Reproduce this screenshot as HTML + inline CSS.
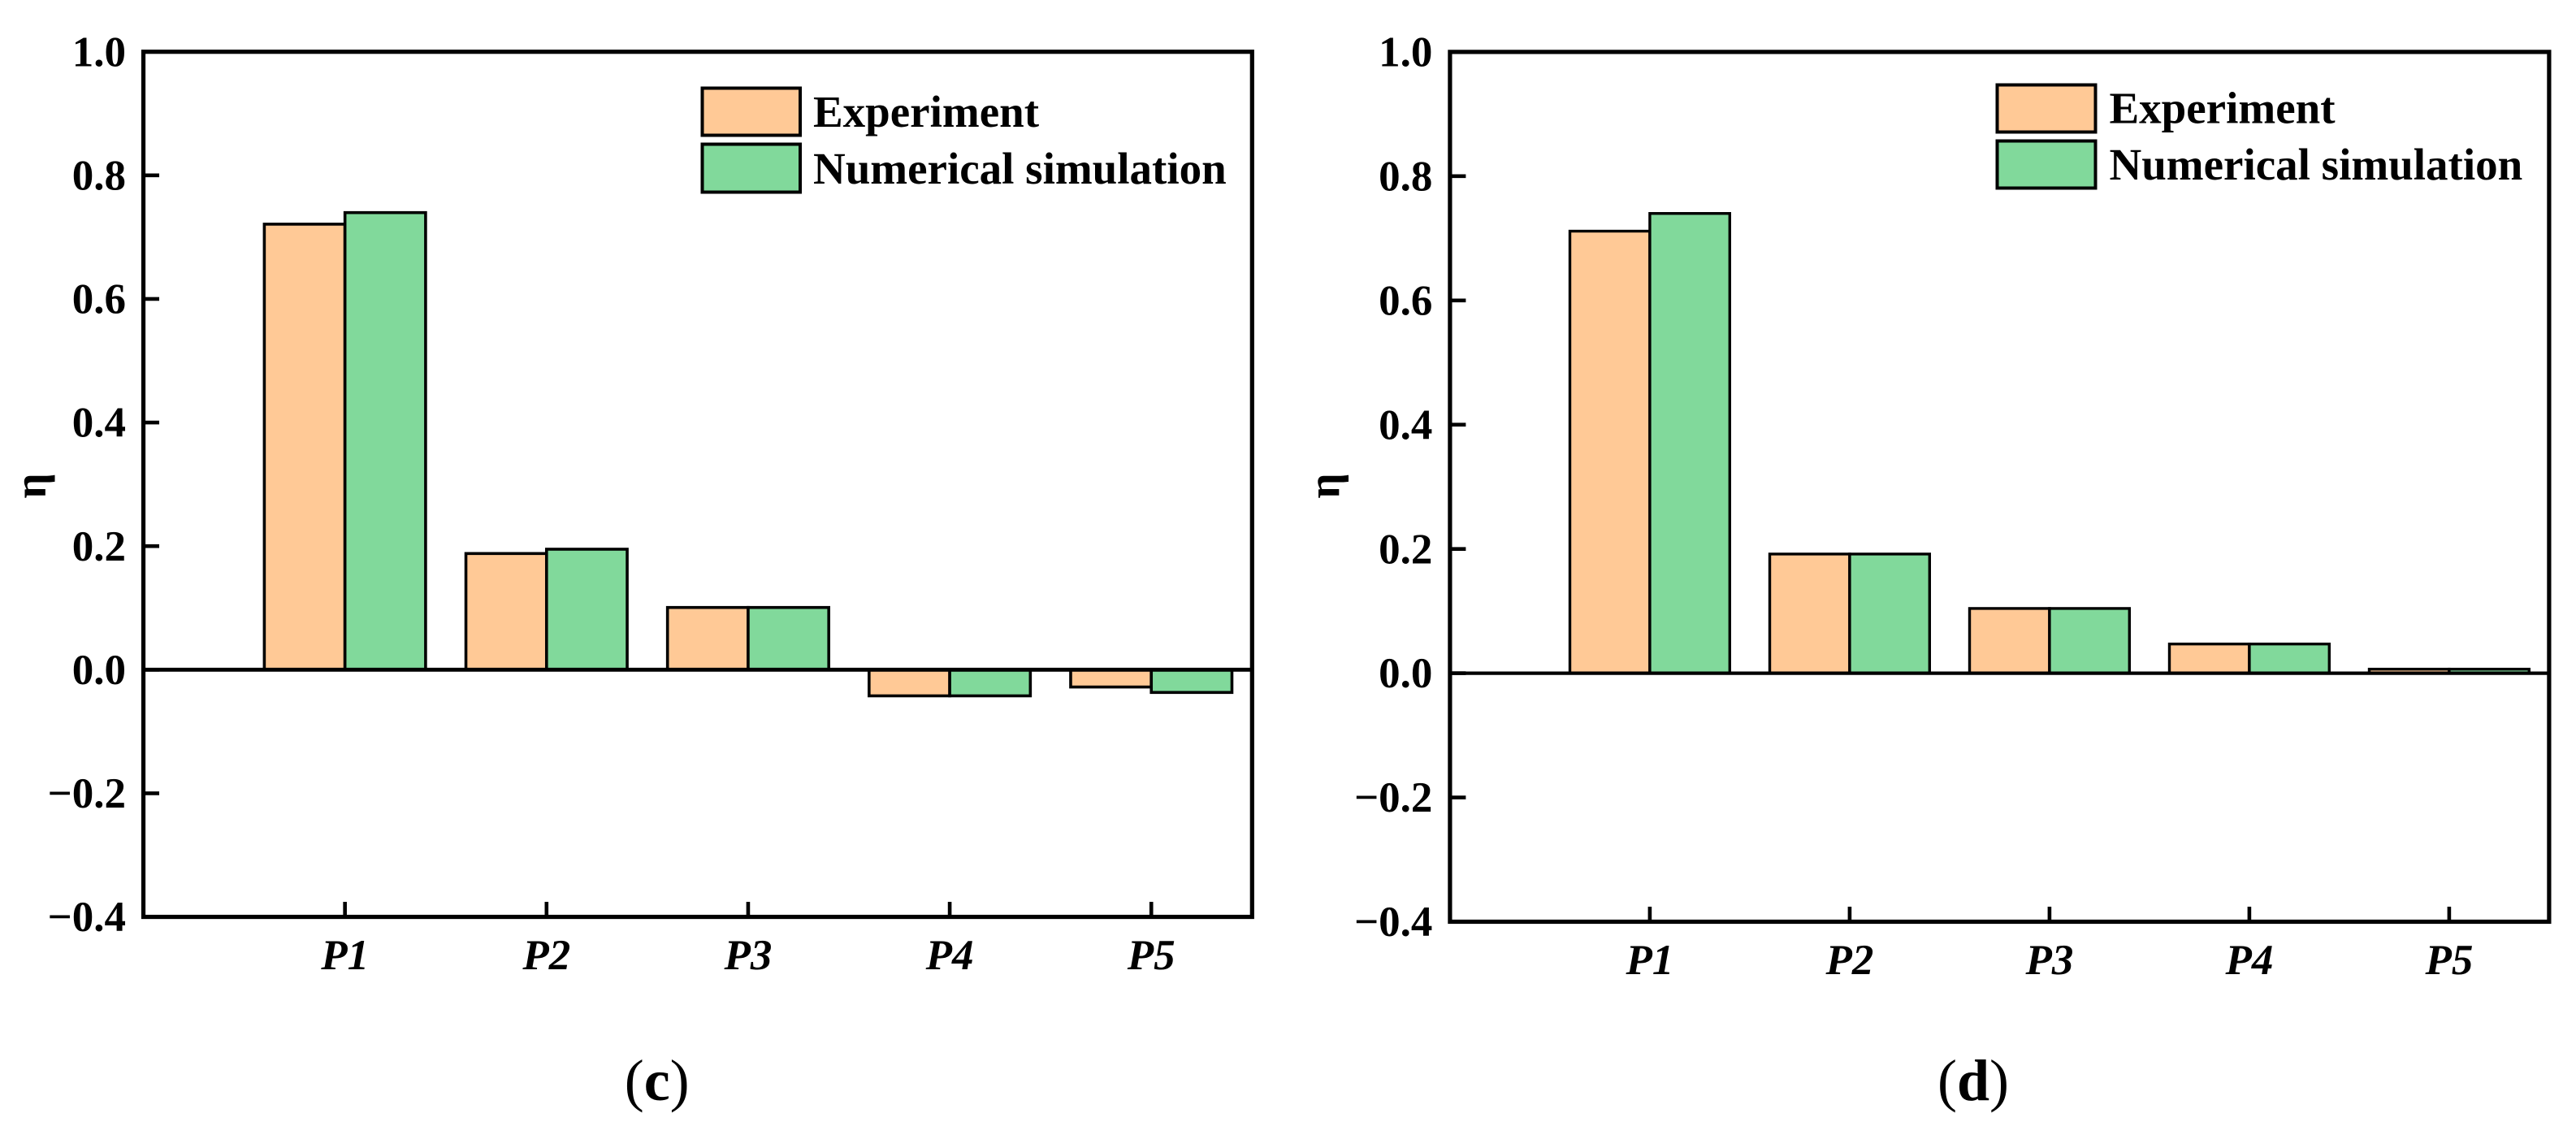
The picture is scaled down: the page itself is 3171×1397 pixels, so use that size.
<!DOCTYPE html>
<html lang="en">
<head>
<meta charset="utf-8">
<title>Experiment vs numerical simulation</title>
<style>
html,body{margin:0;padding:0;background:#fff;}
svg{display:block;}
text{font-family:"Liberation Serif",serif;fill:#000;}
</style>
</head>
<body>
<svg id="figure" xmlns="http://www.w3.org/2000/svg" width="3171" height="1397" viewBox="0 0 3171 1397">
  <rect x="0" y="0" width="3171" height="1397" fill="#ffffff"/>
  <g id="panel-c"></g>
  <g id="panel-d"></g>

  <g>
    <rect x="864.5" y="108.5" width="120.5" height="58" fill="#FFC996" stroke="#000" stroke-width="4"/>
    <text x="1001" y="156" font-size="55" font-weight="700">Experiment</text>
    <rect x="864.5" y="177.5" width="120.5" height="59" fill="#81D99B" stroke="#000" stroke-width="4"/>
    <text x="1001" y="226" font-size="55" font-weight="700">Numerical simulation</text>
  </g>
  <g>
    <rect x="2458.5" y="104.5" width="121" height="58" fill="#FFC996" stroke="#000" stroke-width="4"/>
    <text x="2596.5" y="151.7" font-size="55" font-weight="700">Experiment</text>
    <rect x="2458.5" y="173.5" width="121" height="58" fill="#81D99B" stroke="#000" stroke-width="4"/>
    <text x="2596.5" y="221" font-size="55" font-weight="700">Numerical simulation</text>
  </g>

  <text transform="translate(56 598) rotate(-90)" text-anchor="middle" font-size="55" font-weight="700">η</text>
  <text transform="translate(1648.3 598) rotate(-90)" text-anchor="middle" font-size="55" font-weight="700">η</text>

  <text x="808.7" y="1354" text-anchor="middle" font-size="72">(<tspan font-weight="700">c</tspan>)</text>
  <text x="2429" y="1354" text-anchor="middle" font-size="72">(<tspan font-weight="700">d</tspan>)</text>
</svg>
<script>
const categories = ['P1', 'P2', 'P3', 'P4', 'P5'];
const yTickValues = [1.0, 0.8, 0.6, 0.4, 0.2, 0.0, -0.2, -0.4];
const yTickLabels = ['1.0', '0.8', '0.6', '0.4', '0.2', '0.0', '\u22120.2', '\u22120.4'];
const experimentC = [0.721, 0.188, 0.1007, -0.0423, -0.028];
const simulationC = [0.7397, 0.195, 0.1007, -0.0423, -0.0368];
const experimentD = [0.7115, 0.1918, 0.1042, 0.047, 0.0065];
const simulationD = [0.74, 0.1918, 0.1042, 0.047, 0.0065];

const NS = 'http://www.w3.org/2000/svg';
const ORANGE = '#FFC996';
const GREEN = '#81D99B';

function make(parent, tag, attrs) {
  const el = document.createElementNS(NS, tag);
  for (const k in attrs) el.setAttribute(k, attrs[k]);
  parent.appendChild(el);
  return el;
}

function drawPanel(cfg) {
  const root = document.getElementById(cfg.id);
  const xScale = function (pos) { return cfg.left + (pos / 5.5) * (cfg.right - cfg.left); };
  const yScale = function (v) { return cfg.zeroY - v * cfg.pxPerUnit; };
  const barW = 0.4 * (xScale(1) - xScale(0));

  categories.forEach(function (cat, i) {
    const cx = xScale(i + 1);
    [[cfg.experiment, ORANGE, -1, 'experiment'], [cfg.simulation, GREEN, 0, 'simulation']].forEach(function (s) {
      const v = s[0][i];
      const top = Math.min(yScale(v), yScale(0));
      const h = Math.abs(yScale(v) - yScale(0));
      const bar = make(root, 'rect', {
        x: cx + s[2] * barW, y: top, width: barW, height: h,
        fill: s[1], stroke: '#000', 'stroke-width': cfg.barStroke
      });
      
      
    });
  });

  const zero = make(root, 'line', {
    x1: cfg.left, x2: cfg.right, y1: yScale(0), y2: yScale(0), stroke: '#000', 'stroke-width': cfg.zeroStroke
  });
  
  

  const frame = make(root, 'rect', {
    x: cfg.left, y: yScale(1), width: cfg.right - cfg.left, height: yScale(-0.4) - yScale(1),
    fill: 'none', stroke: '#000', 'stroke-width': 5.2
  });
  
  

  yTickValues.forEach(function (v, i) {
    const y = yScale(v);
    if (i > 0 && i < yTickValues.length - 1) {
      const tick = make(root, 'line', {
        x1: cfg.left, x2: cfg.left + 19.5, y1: y, y2: y, stroke: '#000', 'stroke-width': 4.6
      });
      
      
    }
    const label = make(root, 'text', {
      x: cfg.left - 21.5, y: y + 17.6, 'text-anchor': 'end', 'font-size': 53, 'font-weight': 700
    });
    label.textContent = yTickLabels[i];
    
    
  });

  categories.forEach(function (cat, i) {
    const x = xScale(i + 1);
    const tick = make(root, 'line', {
      x1: x, x2: x, y1: yScale(-0.4), y2: yScale(-0.4) - 18.5, stroke: '#000', 'stroke-width': 4.6
    });
    
    
    const label = make(root, 'text', {
      x: x, y: yScale(-0.4) + 64.3, 'text-anchor': 'middle', 'font-size': 53, 'font-weight': 700, 'font-style': 'italic'
    });
    label.textContent = cat;
    
    
  });
}

drawPanel({
  id: 'panel-c', left: 176.5, right: 1541.3, zeroY: 824.3, pxPerUnit: 760.6,
  barStroke: 3.6, zeroStroke: 4.9, experiment: experimentC, simulation: simulationC
});
drawPanel({
  id: 'panel-d', left: 1784.9, right: 3137.9, zeroY: 828.6, pxPerUnit: 764.7,
  barStroke: 3.4, zeroStroke: 4.2, experiment: experimentD, simulation: simulationD
});
</script>
</body>
</html>
